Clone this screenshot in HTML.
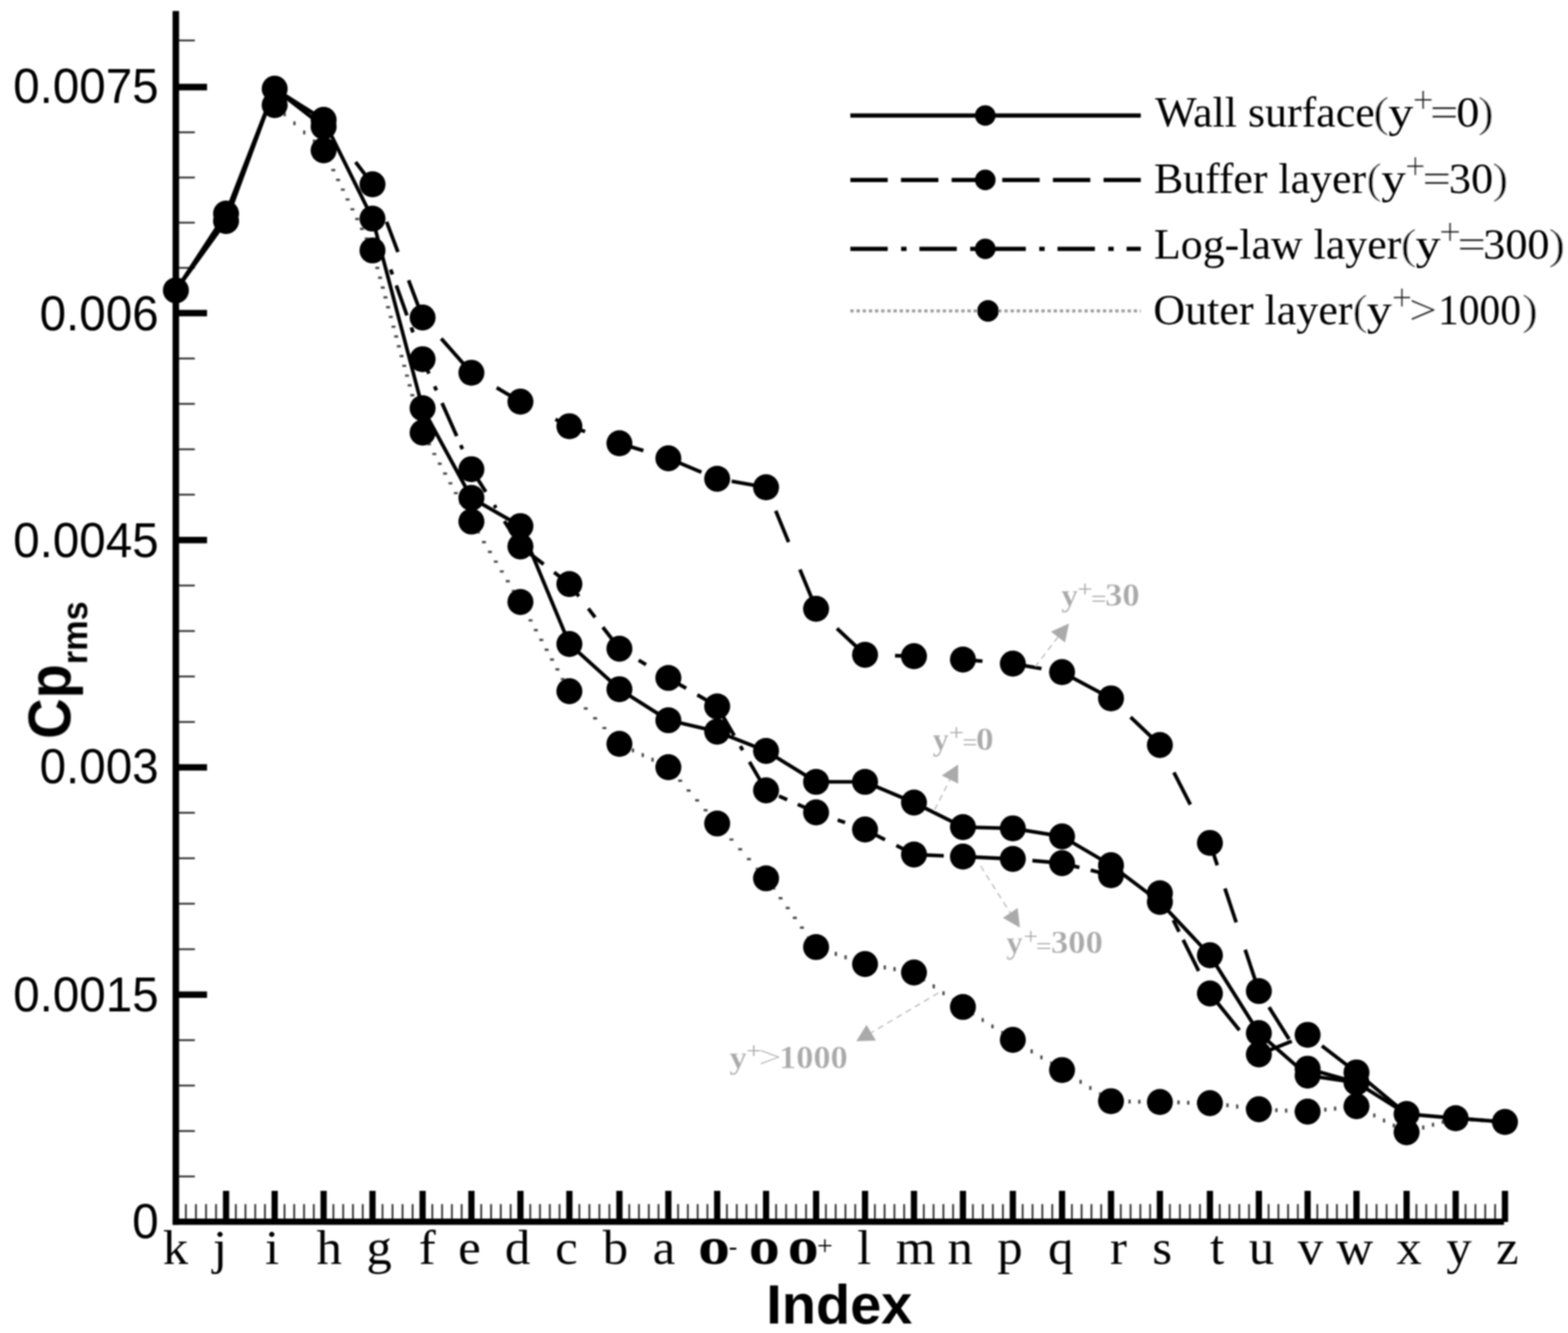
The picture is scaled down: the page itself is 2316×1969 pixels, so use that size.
<!DOCTYPE html>
<html lang="en"><head><meta charset="utf-8"><title>Cp rms vs Index</title>
<style>
html,body{margin:0;padding:0;background:#fff;}
body{width:2316px;height:1969px;overflow:hidden;}
svg{display:block;}
.ser{font-family:"Liberation Serif",serif;}
.san{font-family:"Liberation Sans",sans-serif;}
</style></head><body>
<svg width="2316" height="1969" viewBox="0 0 2316 1969">
<defs><filter id="soft" x="0" y="0" width="2316" height="1969" filterUnits="userSpaceOnUse"><feGaussianBlur stdDeviation="0.9"/></filter></defs>
<rect width="2316" height="1969" fill="#fff"/>
<g filter="url(#soft)">

<g id="axes" stroke="#000" fill="none">
<line x1="259.7" y1="59.8" x2="287.8" y2="59.8" stroke="#2c2c2c" stroke-width="2.6"/>
<line x1="259.7" y1="1737.8" x2="287.8" y2="1737.8" stroke="#2c2c2c" stroke-width="2.6"/>
<line x1="259.7" y1="1670.7" x2="287.8" y2="1670.7" stroke="#2c2c2c" stroke-width="2.6"/>
<line x1="259.7" y1="1603.5" x2="287.8" y2="1603.5" stroke="#2c2c2c" stroke-width="2.6"/>
<line x1="259.7" y1="1536.4" x2="287.8" y2="1536.4" stroke="#2c2c2c" stroke-width="2.6"/>
<line x1="259.7" y1="1402.1" x2="287.8" y2="1402.1" stroke="#2c2c2c" stroke-width="2.6"/>
<line x1="259.7" y1="1334.9" x2="287.8" y2="1334.9" stroke="#2c2c2c" stroke-width="2.6"/>
<line x1="259.7" y1="1267.8" x2="287.8" y2="1267.8" stroke="#2c2c2c" stroke-width="2.6"/>
<line x1="259.7" y1="1200.6" x2="287.8" y2="1200.6" stroke="#2c2c2c" stroke-width="2.6"/>
<line x1="259.7" y1="1066.4" x2="287.8" y2="1066.4" stroke="#2c2c2c" stroke-width="2.6"/>
<line x1="259.7" y1="999.2" x2="287.8" y2="999.2" stroke="#2c2c2c" stroke-width="2.6"/>
<line x1="259.7" y1="932.1" x2="287.8" y2="932.1" stroke="#2c2c2c" stroke-width="2.6"/>
<line x1="259.7" y1="864.9" x2="287.8" y2="864.9" stroke="#2c2c2c" stroke-width="2.6"/>
<line x1="259.7" y1="730.7" x2="287.8" y2="730.7" stroke="#2c2c2c" stroke-width="2.6"/>
<line x1="259.7" y1="663.7" x2="287.8" y2="663.7" stroke="#2c2c2c" stroke-width="2.6"/>
<line x1="259.7" y1="596.6" x2="287.8" y2="596.6" stroke="#2c2c2c" stroke-width="2.6"/>
<line x1="259.7" y1="529.6" x2="287.8" y2="529.6" stroke="#2c2c2c" stroke-width="2.6"/>
<line x1="259.7" y1="395.7" x2="287.8" y2="395.7" stroke="#2c2c2c" stroke-width="2.6"/>
<line x1="259.7" y1="328.9" x2="287.8" y2="328.9" stroke="#2c2c2c" stroke-width="2.6"/>
<line x1="259.7" y1="262.2" x2="287.8" y2="262.2" stroke="#2c2c2c" stroke-width="2.6"/>
<line x1="259.7" y1="195.4" x2="287.8" y2="195.4" stroke="#2c2c2c" stroke-width="2.6"/>
<line x1="259.7" y1="1469.2" x2="305.8" y2="1469.2" stroke-width="9.6"/>
<line x1="259.7" y1="1133.5" x2="305.8" y2="1133.5" stroke-width="9.6"/>
<line x1="259.7" y1="797.8" x2="305.8" y2="797.8" stroke-width="9.6"/>
<line x1="259.7" y1="462.5" x2="305.8" y2="462.5" stroke-width="9.6"/>
<line x1="259.7" y1="128.6" x2="305.8" y2="128.6" stroke-width="9.6"/>
<line x1="274.6" y1="1778.6" x2="274.6" y2="1805" stroke="#2c2c2c" stroke-width="2.6"/>
<line x1="289.4" y1="1778.6" x2="289.4" y2="1805" stroke="#2c2c2c" stroke-width="2.6"/>
<line x1="304.3" y1="1778.6" x2="304.3" y2="1805" stroke="#2c2c2c" stroke-width="2.6"/>
<line x1="319.1" y1="1778.6" x2="319.1" y2="1805" stroke="#2c2c2c" stroke-width="2.6"/>
<line x1="348.3" y1="1778.6" x2="348.3" y2="1805" stroke="#2c2c2c" stroke-width="2.6"/>
<line x1="362.6" y1="1778.6" x2="362.6" y2="1805" stroke="#2c2c2c" stroke-width="2.6"/>
<line x1="377.0" y1="1778.6" x2="377.0" y2="1805" stroke="#2c2c2c" stroke-width="2.6"/>
<line x1="391.3" y1="1778.6" x2="391.3" y2="1805" stroke="#2c2c2c" stroke-width="2.6"/>
<line x1="420.2" y1="1778.6" x2="420.2" y2="1805" stroke="#2c2c2c" stroke-width="2.6"/>
<line x1="434.6" y1="1778.6" x2="434.6" y2="1805" stroke="#2c2c2c" stroke-width="2.6"/>
<line x1="449.1" y1="1778.6" x2="449.1" y2="1805" stroke="#2c2c2c" stroke-width="2.6"/>
<line x1="463.5" y1="1778.6" x2="463.5" y2="1805" stroke="#2c2c2c" stroke-width="2.6"/>
<line x1="492.4" y1="1778.6" x2="492.4" y2="1805" stroke="#2c2c2c" stroke-width="2.6"/>
<line x1="506.9" y1="1778.6" x2="506.9" y2="1805" stroke="#2c2c2c" stroke-width="2.6"/>
<line x1="521.3" y1="1778.6" x2="521.3" y2="1805" stroke="#2c2c2c" stroke-width="2.6"/>
<line x1="535.8" y1="1778.6" x2="535.8" y2="1805" stroke="#2c2c2c" stroke-width="2.6"/>
<line x1="565.0" y1="1778.6" x2="565.0" y2="1805" stroke="#2c2c2c" stroke-width="2.6"/>
<line x1="579.8" y1="1778.6" x2="579.8" y2="1805" stroke="#2c2c2c" stroke-width="2.6"/>
<line x1="594.6" y1="1778.6" x2="594.6" y2="1805" stroke="#2c2c2c" stroke-width="2.6"/>
<line x1="609.4" y1="1778.6" x2="609.4" y2="1805" stroke="#2c2c2c" stroke-width="2.6"/>
<line x1="638.6" y1="1778.6" x2="638.6" y2="1805" stroke="#2c2c2c" stroke-width="2.6"/>
<line x1="653.0" y1="1778.6" x2="653.0" y2="1805" stroke="#2c2c2c" stroke-width="2.6"/>
<line x1="667.5" y1="1778.6" x2="667.5" y2="1805" stroke="#2c2c2c" stroke-width="2.6"/>
<line x1="681.9" y1="1778.6" x2="681.9" y2="1805" stroke="#2c2c2c" stroke-width="2.6"/>
<line x1="710.8" y1="1778.6" x2="710.8" y2="1805" stroke="#2c2c2c" stroke-width="2.6"/>
<line x1="725.3" y1="1778.6" x2="725.3" y2="1805" stroke="#2c2c2c" stroke-width="2.6"/>
<line x1="739.7" y1="1778.6" x2="739.7" y2="1805" stroke="#2c2c2c" stroke-width="2.6"/>
<line x1="754.2" y1="1778.6" x2="754.2" y2="1805" stroke="#2c2c2c" stroke-width="2.6"/>
<line x1="783.2" y1="1778.6" x2="783.2" y2="1805" stroke="#2c2c2c" stroke-width="2.6"/>
<line x1="797.6" y1="1778.6" x2="797.6" y2="1805" stroke="#2c2c2c" stroke-width="2.6"/>
<line x1="812.1" y1="1778.6" x2="812.1" y2="1805" stroke="#2c2c2c" stroke-width="2.6"/>
<line x1="826.5" y1="1778.6" x2="826.5" y2="1805" stroke="#2c2c2c" stroke-width="2.6"/>
<line x1="855.8" y1="1778.6" x2="855.8" y2="1805" stroke="#2c2c2c" stroke-width="2.6"/>
<line x1="870.6" y1="1778.6" x2="870.6" y2="1805" stroke="#2c2c2c" stroke-width="2.6"/>
<line x1="885.3" y1="1778.6" x2="885.3" y2="1805" stroke="#2c2c2c" stroke-width="2.6"/>
<line x1="900.1" y1="1778.6" x2="900.1" y2="1805" stroke="#2c2c2c" stroke-width="2.6"/>
<line x1="929.4" y1="1778.6" x2="929.4" y2="1805" stroke="#2c2c2c" stroke-width="2.6"/>
<line x1="943.8" y1="1778.6" x2="943.8" y2="1805" stroke="#2c2c2c" stroke-width="2.6"/>
<line x1="958.3" y1="1778.6" x2="958.3" y2="1805" stroke="#2c2c2c" stroke-width="2.6"/>
<line x1="972.7" y1="1778.6" x2="972.7" y2="1805" stroke="#2c2c2c" stroke-width="2.6"/>
<line x1="1001.6" y1="1778.6" x2="1001.6" y2="1805" stroke="#2c2c2c" stroke-width="2.6"/>
<line x1="1016.0" y1="1778.6" x2="1016.0" y2="1805" stroke="#2c2c2c" stroke-width="2.6"/>
<line x1="1030.5" y1="1778.6" x2="1030.5" y2="1805" stroke="#2c2c2c" stroke-width="2.6"/>
<line x1="1044.9" y1="1778.6" x2="1044.9" y2="1805" stroke="#2c2c2c" stroke-width="2.6"/>
<line x1="1073.7" y1="1778.6" x2="1073.7" y2="1805" stroke="#2c2c2c" stroke-width="2.6"/>
<line x1="1088.2" y1="1778.6" x2="1088.2" y2="1805" stroke="#2c2c2c" stroke-width="2.6"/>
<line x1="1102.6" y1="1778.6" x2="1102.6" y2="1805" stroke="#2c2c2c" stroke-width="2.6"/>
<line x1="1117.1" y1="1778.6" x2="1117.1" y2="1805" stroke="#2c2c2c" stroke-width="2.6"/>
<line x1="1146.3" y1="1778.6" x2="1146.3" y2="1805" stroke="#2c2c2c" stroke-width="2.6"/>
<line x1="1161.1" y1="1778.6" x2="1161.1" y2="1805" stroke="#2c2c2c" stroke-width="2.6"/>
<line x1="1175.8" y1="1778.6" x2="1175.8" y2="1805" stroke="#2c2c2c" stroke-width="2.6"/>
<line x1="1190.6" y1="1778.6" x2="1190.6" y2="1805" stroke="#2c2c2c" stroke-width="2.6"/>
<line x1="1219.9" y1="1778.6" x2="1219.9" y2="1805" stroke="#2c2c2c" stroke-width="2.6"/>
<line x1="1234.3" y1="1778.6" x2="1234.3" y2="1805" stroke="#2c2c2c" stroke-width="2.6"/>
<line x1="1248.8" y1="1778.6" x2="1248.8" y2="1805" stroke="#2c2c2c" stroke-width="2.6"/>
<line x1="1263.2" y1="1778.6" x2="1263.2" y2="1805" stroke="#2c2c2c" stroke-width="2.6"/>
<line x1="1292.2" y1="1778.6" x2="1292.2" y2="1805" stroke="#2c2c2c" stroke-width="2.6"/>
<line x1="1306.6" y1="1778.6" x2="1306.6" y2="1805" stroke="#2c2c2c" stroke-width="2.6"/>
<line x1="1321.1" y1="1778.6" x2="1321.1" y2="1805" stroke="#2c2c2c" stroke-width="2.6"/>
<line x1="1335.5" y1="1778.6" x2="1335.5" y2="1805" stroke="#2c2c2c" stroke-width="2.6"/>
<line x1="1364.5" y1="1778.6" x2="1364.5" y2="1805" stroke="#2c2c2c" stroke-width="2.6"/>
<line x1="1378.9" y1="1778.6" x2="1378.9" y2="1805" stroke="#2c2c2c" stroke-width="2.6"/>
<line x1="1393.4" y1="1778.6" x2="1393.4" y2="1805" stroke="#2c2c2c" stroke-width="2.6"/>
<line x1="1407.8" y1="1778.6" x2="1407.8" y2="1805" stroke="#2c2c2c" stroke-width="2.6"/>
<line x1="1437.0" y1="1778.6" x2="1437.0" y2="1805" stroke="#2c2c2c" stroke-width="2.6"/>
<line x1="1451.8" y1="1778.6" x2="1451.8" y2="1805" stroke="#2c2c2c" stroke-width="2.6"/>
<line x1="1466.5" y1="1778.6" x2="1466.5" y2="1805" stroke="#2c2c2c" stroke-width="2.6"/>
<line x1="1481.3" y1="1778.6" x2="1481.3" y2="1805" stroke="#2c2c2c" stroke-width="2.6"/>
<line x1="1510.5" y1="1778.6" x2="1510.5" y2="1805" stroke="#2c2c2c" stroke-width="2.6"/>
<line x1="1525.1" y1="1778.6" x2="1525.1" y2="1805" stroke="#2c2c2c" stroke-width="2.6"/>
<line x1="1539.6" y1="1778.6" x2="1539.6" y2="1805" stroke="#2c2c2c" stroke-width="2.6"/>
<line x1="1554.2" y1="1778.6" x2="1554.2" y2="1805" stroke="#2c2c2c" stroke-width="2.6"/>
<line x1="1583.2" y1="1778.6" x2="1583.2" y2="1805" stroke="#2c2c2c" stroke-width="2.6"/>
<line x1="1597.6" y1="1778.6" x2="1597.6" y2="1805" stroke="#2c2c2c" stroke-width="2.6"/>
<line x1="1612.1" y1="1778.6" x2="1612.1" y2="1805" stroke="#2c2c2c" stroke-width="2.6"/>
<line x1="1626.5" y1="1778.6" x2="1626.5" y2="1805" stroke="#2c2c2c" stroke-width="2.6"/>
<line x1="1655.4" y1="1778.6" x2="1655.4" y2="1805" stroke="#2c2c2c" stroke-width="2.6"/>
<line x1="1669.9" y1="1778.6" x2="1669.9" y2="1805" stroke="#2c2c2c" stroke-width="2.6"/>
<line x1="1684.3" y1="1778.6" x2="1684.3" y2="1805" stroke="#2c2c2c" stroke-width="2.6"/>
<line x1="1698.8" y1="1778.6" x2="1698.8" y2="1805" stroke="#2c2c2c" stroke-width="2.6"/>
<line x1="1728.0" y1="1778.6" x2="1728.0" y2="1805" stroke="#2c2c2c" stroke-width="2.6"/>
<line x1="1742.8" y1="1778.6" x2="1742.8" y2="1805" stroke="#2c2c2c" stroke-width="2.6"/>
<line x1="1757.5" y1="1778.6" x2="1757.5" y2="1805" stroke="#2c2c2c" stroke-width="2.6"/>
<line x1="1772.3" y1="1778.6" x2="1772.3" y2="1805" stroke="#2c2c2c" stroke-width="2.6"/>
<line x1="1801.6" y1="1778.6" x2="1801.6" y2="1805" stroke="#2c2c2c" stroke-width="2.6"/>
<line x1="1816.0" y1="1778.6" x2="1816.0" y2="1805" stroke="#2c2c2c" stroke-width="2.6"/>
<line x1="1830.5" y1="1778.6" x2="1830.5" y2="1805" stroke="#2c2c2c" stroke-width="2.6"/>
<line x1="1844.9" y1="1778.6" x2="1844.9" y2="1805" stroke="#2c2c2c" stroke-width="2.6"/>
<line x1="1873.8" y1="1778.6" x2="1873.8" y2="1805" stroke="#2c2c2c" stroke-width="2.6"/>
<line x1="1888.2" y1="1778.6" x2="1888.2" y2="1805" stroke="#2c2c2c" stroke-width="2.6"/>
<line x1="1902.6" y1="1778.6" x2="1902.6" y2="1805" stroke="#2c2c2c" stroke-width="2.6"/>
<line x1="1917.0" y1="1778.6" x2="1917.0" y2="1805" stroke="#2c2c2c" stroke-width="2.6"/>
<line x1="1945.8" y1="1778.6" x2="1945.8" y2="1805" stroke="#2c2c2c" stroke-width="2.6"/>
<line x1="1960.3" y1="1778.6" x2="1960.3" y2="1805" stroke="#2c2c2c" stroke-width="2.6"/>
<line x1="1974.7" y1="1778.6" x2="1974.7" y2="1805" stroke="#2c2c2c" stroke-width="2.6"/>
<line x1="1989.2" y1="1778.6" x2="1989.2" y2="1805" stroke="#2c2c2c" stroke-width="2.6"/>
<line x1="2018.4" y1="1778.6" x2="2018.4" y2="1805" stroke="#2c2c2c" stroke-width="2.6"/>
<line x1="2033.2" y1="1778.6" x2="2033.2" y2="1805" stroke="#2c2c2c" stroke-width="2.6"/>
<line x1="2048.0" y1="1778.6" x2="2048.0" y2="1805" stroke="#2c2c2c" stroke-width="2.6"/>
<line x1="2062.8" y1="1778.6" x2="2062.8" y2="1805" stroke="#2c2c2c" stroke-width="2.6"/>
<line x1="2092.1" y1="1778.6" x2="2092.1" y2="1805" stroke="#2c2c2c" stroke-width="2.6"/>
<line x1="2106.6" y1="1778.6" x2="2106.6" y2="1805" stroke="#2c2c2c" stroke-width="2.6"/>
<line x1="2121.1" y1="1778.6" x2="2121.1" y2="1805" stroke="#2c2c2c" stroke-width="2.6"/>
<line x1="2135.6" y1="1778.6" x2="2135.6" y2="1805" stroke="#2c2c2c" stroke-width="2.6"/>
<line x1="2164.7" y1="1778.6" x2="2164.7" y2="1805" stroke="#2c2c2c" stroke-width="2.6"/>
<line x1="2179.2" y1="1778.6" x2="2179.2" y2="1805" stroke="#2c2c2c" stroke-width="2.6"/>
<line x1="2193.8" y1="1778.6" x2="2193.8" y2="1805" stroke="#2c2c2c" stroke-width="2.6"/>
<line x1="2208.3" y1="1778.6" x2="2208.3" y2="1805" stroke="#2c2c2c" stroke-width="2.6"/>
<line x1="333.9" y1="1759" x2="333.9" y2="1805" stroke-width="9.2"/>
<line x1="405.7" y1="1759" x2="405.7" y2="1805" stroke-width="9.2"/>
<line x1="478.0" y1="1759" x2="478.0" y2="1805" stroke-width="9.2"/>
<line x1="550.2" y1="1759" x2="550.2" y2="1805" stroke-width="9.2"/>
<line x1="624.2" y1="1759" x2="624.2" y2="1805" stroke-width="9.2"/>
<line x1="696.3" y1="1759" x2="696.3" y2="1805" stroke-width="9.2"/>
<line x1="768.7" y1="1759" x2="768.7" y2="1805" stroke-width="9.2"/>
<line x1="841.0" y1="1759" x2="841.0" y2="1805" stroke-width="9.2"/>
<line x1="914.9" y1="1759" x2="914.9" y2="1805" stroke-width="9.2"/>
<line x1="987.2" y1="1759" x2="987.2" y2="1805" stroke-width="9.2"/>
<line x1="1059.3" y1="1759" x2="1059.3" y2="1805" stroke-width="9.2"/>
<line x1="1131.5" y1="1759" x2="1131.5" y2="1805" stroke-width="9.2"/>
<line x1="1205.4" y1="1759" x2="1205.4" y2="1805" stroke-width="9.2"/>
<line x1="1277.7" y1="1759" x2="1277.7" y2="1805" stroke-width="9.2"/>
<line x1="1350.0" y1="1759" x2="1350.0" y2="1805" stroke-width="9.2"/>
<line x1="1422.3" y1="1759" x2="1422.3" y2="1805" stroke-width="9.2"/>
<line x1="1496.0" y1="1759" x2="1496.0" y2="1805" stroke-width="9.2"/>
<line x1="1568.7" y1="1759" x2="1568.7" y2="1805" stroke-width="9.2"/>
<line x1="1641.0" y1="1759" x2="1641.0" y2="1805" stroke-width="9.2"/>
<line x1="1713.2" y1="1759" x2="1713.2" y2="1805" stroke-width="9.2"/>
<line x1="1787.1" y1="1759" x2="1787.1" y2="1805" stroke-width="9.2"/>
<line x1="1859.4" y1="1759" x2="1859.4" y2="1805" stroke-width="9.2"/>
<line x1="1931.4" y1="1759" x2="1931.4" y2="1805" stroke-width="9.2"/>
<line x1="2003.6" y1="1759" x2="2003.6" y2="1805" stroke-width="9.2"/>
<line x1="2077.6" y1="1759" x2="2077.6" y2="1805" stroke-width="9.2"/>
<line x1="2150.1" y1="1759" x2="2150.1" y2="1805" stroke-width="9.2"/>
<line x1="2222.9" y1="1759" x2="2222.9" y2="1805" stroke-width="9.2"/>
<line x1="259.7" y1="16.3" x2="259.7" y2="1809.3" stroke-width="9.6"/>
<line x1="254.9" y1="1804.6" x2="2221.5" y2="1804.6" stroke-width="9.4"/>
</g>
<g class="san" font-size="72" fill="#000" text-anchor="end">
<text transform="translate(234.4,1829.3) scale(0.9765,1)">0</text>
<text transform="translate(234.4,1494.2) scale(0.9765,1)">0.0015</text>
<text transform="translate(234.4,1157.0) scale(0.9765,1)">0.003</text>
<text transform="translate(234.4,823.0) scale(0.9765,1)">0.0045</text>
<text transform="translate(234.4,487.5) scale(0.9765,1)">0.006</text>
<text transform="translate(234.4,151.9) scale(0.9765,1)">0.0075</text>
</g>
<g class="ser" font-size="71.5" fill="#000">
<text y="1866.9"><tspan x="240.6" textLength="37.5" lengthAdjust="spacingAndGlyphs">k</tspan></text>
<text y="1866.9"><tspan x="314.4" textLength="20.9" lengthAdjust="spacingAndGlyphs">j</tspan></text>
<text y="1866.9"><tspan x="391.6" textLength="20.9" lengthAdjust="spacingAndGlyphs">i</tspan></text>
<text y="1866.9"><tspan x="467.4" textLength="37.5" lengthAdjust="spacingAndGlyphs">h</tspan></text>
<text y="1866.9"><tspan x="541.2" textLength="37.5" lengthAdjust="spacingAndGlyphs">g</tspan></text>
<text y="1866.9"><tspan x="618.4" textLength="25.0" lengthAdjust="spacingAndGlyphs">f</tspan></text>
<text y="1866.9"><tspan x="676.8" textLength="33.3" lengthAdjust="spacingAndGlyphs">e</tspan></text>
<text y="1866.9"><tspan x="745.7" textLength="37.5" lengthAdjust="spacingAndGlyphs">d</tspan></text>
<text y="1866.9"><tspan x="820.1" textLength="33.3" lengthAdjust="spacingAndGlyphs">c</tspan></text>
<text y="1866.9"><tspan x="890.2" textLength="37.5" lengthAdjust="spacingAndGlyphs">b</tspan></text>
<text y="1866.9"><tspan x="964.0" textLength="33.3" lengthAdjust="spacingAndGlyphs">a</tspan></text>
<text y="1866.9"><tspan x="1265.9" textLength="20.9" lengthAdjust="spacingAndGlyphs">l</tspan></text>
<text y="1866.9"><tspan x="1323.2" textLength="58.4" lengthAdjust="spacingAndGlyphs">m</tspan></text>
<text y="1866.9"><tspan x="1399.6" textLength="37.5" lengthAdjust="spacingAndGlyphs">n</tspan></text>
<text y="1866.9"><tspan x="1473.0" textLength="37.5" lengthAdjust="spacingAndGlyphs">p</tspan></text>
<text y="1866.9"><tspan x="1548.0" textLength="37.5" lengthAdjust="spacingAndGlyphs">q</tspan></text>
<text y="1866.9"><tspan x="1639.6" textLength="25.0" lengthAdjust="spacingAndGlyphs">r</tspan></text>
<text y="1866.9"><tspan x="1702.0" textLength="29.2" lengthAdjust="spacingAndGlyphs">s</tspan></text>
<text y="1866.9"><tspan x="1787.2" textLength="20.9" lengthAdjust="spacingAndGlyphs">t</tspan></text>
<text y="1866.9"><tspan x="1844.4" textLength="37.5" lengthAdjust="spacingAndGlyphs">u</tspan></text>
<text y="1866.9"><tspan x="1916.8" textLength="37.5" lengthAdjust="spacingAndGlyphs">v</tspan></text>
<text y="1866.9"><tspan x="1973.9" textLength="54.2" lengthAdjust="spacingAndGlyphs">w</tspan></text>
<text y="1866.9"><tspan x="2062.5" textLength="37.5" lengthAdjust="spacingAndGlyphs">x</tspan></text>
<text y="1866.9"><tspan x="2136.3" textLength="37.5" lengthAdjust="spacingAndGlyphs">y</tspan></text>
<text y="1866.9"><tspan x="2209.8" textLength="33.3" lengthAdjust="spacingAndGlyphs">z</tspan></text>
<text y="1866.9"><tspan x="1031.1" textLength="47.3" lengthAdjust="spacingAndGlyphs" font-weight="bold" font-size="78">o</tspan><tspan x="1076.5" dy="-13.3" font-size="41" textLength="12.4" lengthAdjust="spacingAndGlyphs">-</tspan></text>
<text y="1866.9"><tspan x="1106.1" textLength="45.8" lengthAdjust="spacingAndGlyphs" font-weight="bold" font-size="78">o</tspan></text>
<text y="1866.9"><tspan x="1163.4" textLength="45.8" lengthAdjust="spacingAndGlyphs" font-weight="bold" font-size="78">o</tspan><tspan x="1206.7" dy="-13.6" font-size="41" textLength="23.3" lengthAdjust="spacingAndGlyphs">+</tspan></text>
</g>
<text class="san" font-size="81" font-weight="bold" y="1954.6" fill="#000"><tspan x="1131.7" textLength="215.9" lengthAdjust="spacingAndGlyphs">Index</tspan></text>
<text class="san" font-size="85" font-weight="bold" fill="#000" transform="translate(103.9,1091.4) rotate(-90) scale(0.974,1.042)">Cp<tspan font-size="52" dy="24">rms</tspan></text>
<g id="lines" fill="none" stroke="#000" stroke-linejoin="round">
<path d="M404.3 152.6h3.4v5.8h-3.4zM418.8 165.9h3.4v5.8h-3.4zM433.2 179.3h3.4v5.8h-3.4zM447.7 192.7h3.4v5.8h-3.4zM462.1 206.0h3.4v5.8h-3.4zM475.2 220.6h5.8v3.4h-5.8zM482.3 235.1h5.8v3.4h-5.8zM489.4 249.5h5.8v3.4h-5.8zM496.4 264.0h5.8v3.4h-5.8zM503.5 278.4h5.8v3.4h-5.8zM510.5 292.9h5.8v3.4h-5.8zM517.6 307.4h5.8v3.4h-5.8zM524.7 321.8h5.8v3.4h-5.8zM531.7 336.3h5.8v3.4h-5.8zM538.8 350.7h5.8v3.4h-5.8zM545.8 365.2h5.8v3.4h-5.8zM550.5 379.7h5.8v3.4h-5.8zM554.4 394.1h5.8v3.4h-5.8zM558.4 408.6h5.8v3.4h-5.8zM562.4 423.0h5.8v3.4h-5.8zM566.4 437.5h5.8v3.4h-5.8zM570.3 452.0h5.8v3.4h-5.8zM574.3 466.4h5.8v3.4h-5.8zM578.3 480.9h5.8v3.4h-5.8zM582.3 495.3h5.8v3.4h-5.8zM586.2 509.8h5.8v3.4h-5.8zM590.2 524.3h5.8v3.4h-5.8zM594.2 538.7h5.8v3.4h-5.8zM598.2 553.2h5.8v3.4h-5.8zM602.1 567.6h5.8v3.4h-5.8zM606.1 582.1h5.8v3.4h-5.8zM610.1 596.6h5.8v3.4h-5.8zM614.1 611.0h5.8v3.4h-5.8zM618.0 625.5h5.8v3.4h-5.8zM622.7 639.9h5.8v3.4h-5.8zM630.7 654.4h5.8v3.4h-5.8zM638.6 668.9h5.8v3.4h-5.8zM646.6 683.3h5.8v3.4h-5.8zM654.5 697.8h5.8v3.4h-5.8zM662.4 712.2h5.8v3.4h-5.8zM670.4 726.7h5.8v3.4h-5.8zM678.3 741.2h5.8v3.4h-5.8zM686.2 755.6h5.8v3.4h-5.8zM694.2 770.1h5.8v3.4h-5.8zM703.1 784.5h5.8v3.4h-5.8zM711.9 799.0h5.8v3.4h-5.8zM720.7 813.5h5.8v3.4h-5.8zM729.5 827.9h5.8v3.4h-5.8zM738.3 842.4h5.8v3.4h-5.8zM747.1 856.8h5.8v3.4h-5.8zM755.9 871.3h5.8v3.4h-5.8zM764.7 885.8h5.8v3.4h-5.8zM772.8 900.2h5.8v3.4h-5.8zM780.7 914.7h5.8v3.4h-5.8zM788.6 929.1h5.8v3.4h-5.8zM796.6 943.6h5.8v3.4h-5.8zM804.5 958.1h5.8v3.4h-5.8zM812.4 972.5h5.8v3.4h-5.8zM820.4 987.0h5.8v3.4h-5.8zM828.3 1001.4h5.8v3.4h-5.8zM836.2 1015.9h5.8v3.4h-5.8zM848.6 1030.4h5.8v3.4h-5.8zM862.3 1044.8h5.8v3.4h-5.8zM876.1 1059.3h5.8v3.4h-5.8zM889.8 1073.7h5.8v3.4h-5.8zM903.5 1088.2h5.8v3.4h-5.8zM918.8 1098.6h3.4v5.8h-3.4zM933.2 1105.5h3.4v5.8h-3.4zM947.7 1112.4h3.4v5.8h-3.4zM962.1 1119.3h3.4v5.8h-3.4zM976.6 1126.2h3.4v5.8h-3.4zM989.1 1137.2h5.8v3.4h-5.8zM1001.7 1151.6h5.8v3.4h-5.8zM1014.2 1166.1h5.8v3.4h-5.8zM1026.8 1180.5h5.8v3.4h-5.8zM1039.3 1195.0h5.8v3.4h-5.8zM1051.9 1209.5h5.8v3.4h-5.8zM1064.6 1223.9h5.8v3.4h-5.8zM1077.5 1238.4h5.8v3.4h-5.8zM1090.4 1252.8h5.8v3.4h-5.8zM1103.3 1267.3h5.8v3.4h-5.8zM1116.2 1281.8h5.8v3.4h-5.8zM1129.0 1296.2h5.8v3.4h-5.8zM1139.5 1310.7h5.8v3.4h-5.8zM1150.0 1325.1h5.8v3.4h-5.8zM1160.6 1339.6h5.8v3.4h-5.8zM1171.1 1354.1h5.8v3.4h-5.8zM1181.6 1368.5h5.8v3.4h-5.8zM1192.1 1383.0h5.8v3.4h-5.8zM1203.9 1396.1h3.4v5.8h-3.4zM1218.4 1401.1h3.4v5.8h-3.4zM1232.9 1406.1h3.4v5.8h-3.4zM1247.3 1411.1h3.4v5.8h-3.4zM1261.8 1416.2h3.4v5.8h-3.4zM1276.2 1421.1h3.4v5.8h-3.4zM1290.7 1423.6h3.4v5.8h-3.4zM1305.2 1426.1h3.4v5.8h-3.4zM1319.6 1428.6h3.4v5.8h-3.4zM1334.1 1431.1h3.4v5.8h-3.4zM1348.5 1433.8h3.4v5.8h-3.4zM1363.0 1443.9h3.4v5.8h-3.4zM1377.5 1454.1h3.4v5.8h-3.4zM1391.9 1464.3h3.4v5.8h-3.4zM1406.4 1474.5h3.4v5.8h-3.4zM1420.8 1484.7h3.4v5.8h-3.4zM1435.3 1494.2h3.4v5.8h-3.4zM1449.8 1503.7h3.4v5.8h-3.4zM1464.2 1513.3h3.4v5.8h-3.4zM1478.7 1522.8h3.4v5.8h-3.4zM1493.1 1532.3h3.4v5.8h-3.4zM1507.6 1541.3h3.4v5.8h-3.4zM1522.1 1550.1h3.4v5.8h-3.4zM1536.5 1559.0h3.4v5.8h-3.4zM1551.0 1567.9h3.4v5.8h-3.4zM1565.4 1576.7h3.4v5.8h-3.4zM1579.9 1585.9h3.4v5.8h-3.4zM1594.4 1595.1h3.4v5.8h-3.4zM1608.8 1604.3h3.4v5.8h-3.4zM1623.3 1613.5h3.4v5.8h-3.4zM1637.7 1622.7h3.4v5.8h-3.4zM1652.2 1623.9h3.4v5.8h-3.4zM1666.7 1624.2h3.4v5.8h-3.4zM1681.1 1624.4h3.4v5.8h-3.4zM1695.6 1624.6h3.4v5.8h-3.4zM1710.0 1624.9h3.4v5.8h-3.4zM1724.5 1625.2h3.4v5.8h-3.4zM1739.0 1625.5h3.4v5.8h-3.4zM1753.4 1625.9h3.4v5.8h-3.4zM1767.9 1626.2h3.4v5.8h-3.4zM1782.3 1626.5h3.4v5.8h-3.4zM1796.8 1628.0h3.4v5.8h-3.4zM1811.3 1629.8h3.4v5.8h-3.4zM1825.7 1631.6h3.4v5.8h-3.4zM1840.2 1633.4h3.4v5.8h-3.4zM1854.6 1635.2h3.4v5.8h-3.4zM1869.1 1636.2h3.4v5.8h-3.4zM1883.6 1636.9h3.4v5.8h-3.4zM1898.0 1637.6h3.4v5.8h-3.4zM1912.5 1638.3h3.4v5.8h-3.4zM1926.9 1639.0h3.4v5.8h-3.4zM1941.4 1637.8h3.4v5.8h-3.4zM1955.9 1636.2h3.4v5.8h-3.4zM1970.3 1634.6h3.4v5.8h-3.4zM1984.8 1633.0h3.4v5.8h-3.4zM1999.2 1631.4h3.4v5.8h-3.4zM2013.7 1637.2h3.4v5.8h-3.4zM2028.2 1644.8h3.4v5.8h-3.4zM2042.6 1652.3h3.4v5.8h-3.4zM2057.1 1659.8h3.4v5.8h-3.4zM2071.5 1667.3h3.4v5.8h-3.4zM2086.0 1666.7h3.4v5.8h-3.4zM2100.5 1662.6h3.4v5.8h-3.4zM2114.9 1658.5h3.4v5.8h-3.4zM2129.4 1654.3h3.4v5.8h-3.4zM2143.8 1650.2h3.4v5.8h-3.4zM2158.3 1649.6h3.4v5.8h-3.4zM2172.8 1650.7h3.4v5.8h-3.4zM2187.2 1651.8h3.4v5.8h-3.4zM2201.7 1652.9h3.4v5.8h-3.4zM2216.1 1654.0h3.4v5.8h-3.4z" fill="#484848" stroke="none"/>
<path stroke-width="5.4" d="M259.8 428.9 L333.9 326.5 L405.7 131.0 L478.0 187.0 M577.0 398.1 L579.6 405.4 M585.4 421.7 L601.1 465.8 M607.5 483.7 L610.1 491.0 M624.2 530.6 L633.6 551.8 M642.0 570.7 L644.6 576.6 M652.9 595.3 L674.6 644.2 M680.5 657.5 L683.1 663.3 M696.3 693.1 L717.5 726.5 M730.0 746.2 L732.6 750.3 M745.0 769.8 L768.7 807.2 M768.7 807.2 L803.0 833.5 M818.5 845.4 L841.0 862.7 M841.0 862.7 L855.0 880.8 M869.0 898.9 L879.0 911.8 M890.4 926.5 L914.9 958.2 M943.4 975.2 L954.2 981.7 M987.2 1001.4 L1013.5 1016.7 M1030.0 1026.3 L1059.3 1043.4 M1059.3 1043.4 L1084.5 1086.7 M1093.5 1102.2 L1097.0 1108.2 M1107.0 1125.4 L1131.5 1167.5 M1150.6 1175.9 L1162.7 1181.2 M1178.3 1188.1 L1205.4 1200.0 M1237.3 1211.2 L1248.2 1215.0 M1277.7 1225.3 L1307.2 1240.4 M1324.0 1248.9 L1350.0 1262.2 M1350.0 1262.2 L1394.0 1264.1 M1422.3 1265.3 L1496.0 1268.7 M1524.9 1271.2 L1568.7 1275.0 M1568.7 1275.0 L1594.3 1281.3 M1611.0 1285.4 L1641.0 1292.8 M1733.0 1359.1 L1741.6 1376.3 M1747.6 1388.3 L1770.5 1434.2 M1787.1 1467.5 L1830.7 1521.8 M1859.4 1557.5 L1908.0 1538.0 M1952.5 1544.8 L2003.6 1584.1 M2003.6 1584.1 L2077.6 1645.5"/>
<path stroke-width="5.4" d="M450.0 159.2 L478.0 177.0 M525.2 239.3 L550.2 272.3 M571.0 327.6 L587.8 372.2 M603.5 414.0 L624.2 469.0 M651.7 500.1 L696.3 550.6 M733.6 572.6 L768.7 593.3 M820.4 619.3 L841.0 629.6 L864.2 637.5 M914.9 654.8 L950.3 665.7 M987.2 677.0 L1036.0 697.4 M1080.7 710.9 L1131.5 719.8 M1145.8 754.5 L1164.8 800.7 M1181.5 841.2 L1205.4 899.3 M1236.2 928.2 L1277.7 967.2 M1322.0 968.5 L1350.0 969.3 M1422.3 974.2 L1451.2 976.6 M1496.0 980.3 L1538.3 987.6 M1568.7 992.8 L1641.0 1031.6 M1669.9 1059.2 L1713.2 1100.5 M1733.9 1141.0 L1758.2 1188.6 M1787.1 1245.1 L1798.0 1278.1 M1809.3 1312.3 L1825.9 1362.5 M1839.2 1402.8 L1859.4 1463.9 M1874.4 1487.8 L1904.0 1535.0 M1945.0 1582.4 L1990.0 1595.2"/>
<path d="M259.8 428.9 L333.9 315.5 L405.7 131.0 L478.0 177.0 L550.2 322.9 L624.2 602.9 L696.3 735.4 L768.7 777.1 L841.0 951.3 L914.9 1018.1 L987.2 1063.9 L1059.3 1080.7 L1131.5 1109.2 L1205.4 1154.9 L1277.7 1154.9 L1350.0 1185.5 L1422.3 1221.7 L1496.0 1223.6 L1568.7 1235.5 L1641.0 1278.0 L1713.2 1332.3 L1787.1 1411.0 L1859.4 1526.0 L1931.4 1588.7 L2003.6 1599.0 L2077.6 1645.5 L2150.1 1651.8 L2222.9 1657.3" stroke-width="5.4"/>
</g>
<g id="markers" fill="#000">
<circle cx="259.8" cy="428.9" r="19.2"/>
<circle cx="333.9" cy="315.5" r="19.2"/>
<circle cx="405.7" cy="131.0" r="19.2"/>
<circle cx="478.0" cy="177.0" r="19.2"/>
<circle cx="550.2" cy="322.9" r="19.2"/>
<circle cx="624.2" cy="602.9" r="19.2"/>
<circle cx="696.3" cy="735.4" r="19.2"/>
<circle cx="768.7" cy="777.1" r="19.2"/>
<circle cx="841.0" cy="951.3" r="19.2"/>
<circle cx="914.9" cy="1018.1" r="19.2"/>
<circle cx="987.2" cy="1063.9" r="19.2"/>
<circle cx="1059.3" cy="1080.7" r="19.2"/>
<circle cx="1131.5" cy="1109.2" r="19.2"/>
<circle cx="1205.4" cy="1154.9" r="19.2"/>
<circle cx="1277.7" cy="1154.9" r="19.2"/>
<circle cx="1350.0" cy="1185.5" r="19.2"/>
<circle cx="1422.3" cy="1221.7" r="19.2"/>
<circle cx="1496.0" cy="1223.6" r="19.2"/>
<circle cx="1568.7" cy="1235.5" r="19.2"/>
<circle cx="1641.0" cy="1278.0" r="19.2"/>
<circle cx="1713.2" cy="1332.3" r="19.2"/>
<circle cx="1787.1" cy="1411.0" r="19.2"/>
<circle cx="1859.4" cy="1526.0" r="19.2"/>
<circle cx="1931.4" cy="1588.7" r="19.2"/>
<circle cx="2003.6" cy="1599.0" r="19.2"/>
<circle cx="2077.6" cy="1645.5" r="19.2"/>
<circle cx="2150.1" cy="1651.8" r="19.2"/>
<circle cx="2222.9" cy="1657.3" r="19.2"/>
<circle cx="550.2" cy="272.3" r="19.2"/>
<circle cx="624.2" cy="469.0" r="19.2"/>
<circle cx="696.3" cy="550.6" r="19.2"/>
<circle cx="768.7" cy="593.3" r="19.2"/>
<circle cx="841.0" cy="629.6" r="19.2"/>
<circle cx="914.9" cy="654.8" r="19.2"/>
<circle cx="987.2" cy="677.0" r="19.2"/>
<circle cx="1059.3" cy="707.2" r="19.2"/>
<circle cx="1131.5" cy="719.8" r="19.2"/>
<circle cx="1205.4" cy="899.3" r="19.2"/>
<circle cx="1277.7" cy="967.2" r="19.2"/>
<circle cx="1350.0" cy="969.3" r="19.2"/>
<circle cx="1422.3" cy="974.2" r="19.2"/>
<circle cx="1496.0" cy="980.3" r="19.2"/>
<circle cx="1568.7" cy="992.8" r="19.2"/>
<circle cx="1641.0" cy="1031.6" r="19.2"/>
<circle cx="1713.2" cy="1100.5" r="19.2"/>
<circle cx="1787.1" cy="1245.1" r="19.2"/>
<circle cx="1859.4" cy="1463.9" r="19.2"/>
<circle cx="1931.4" cy="1578.6" r="19.2"/>
<circle cx="333.9" cy="326.5" r="19.2"/>
<circle cx="478.0" cy="187.0" r="19.2"/>
<circle cx="624.2" cy="530.6" r="19.2"/>
<circle cx="696.3" cy="693.1" r="19.2"/>
<circle cx="768.7" cy="807.2" r="19.2"/>
<circle cx="841.0" cy="862.7" r="19.2"/>
<circle cx="914.9" cy="958.2" r="19.2"/>
<circle cx="987.2" cy="1001.4" r="19.2"/>
<circle cx="1059.3" cy="1043.4" r="19.2"/>
<circle cx="1131.5" cy="1167.5" r="19.2"/>
<circle cx="1205.4" cy="1200.0" r="19.2"/>
<circle cx="1277.7" cy="1225.3" r="19.2"/>
<circle cx="1350.0" cy="1262.2" r="19.2"/>
<circle cx="1422.3" cy="1265.3" r="19.2"/>
<circle cx="1496.0" cy="1268.7" r="19.2"/>
<circle cx="1568.7" cy="1275.0" r="19.2"/>
<circle cx="1641.0" cy="1292.8" r="19.2"/>
<circle cx="1713.2" cy="1319.4" r="19.2"/>
<circle cx="1787.1" cy="1467.5" r="19.2"/>
<circle cx="1859.4" cy="1557.5" r="19.2"/>
<circle cx="1931.4" cy="1528.6" r="19.2"/>
<circle cx="2003.6" cy="1584.1" r="19.2"/>
<circle cx="405.7" cy="155.2" r="19.2"/>
<circle cx="478.0" cy="222.0" r="19.2"/>
<circle cx="550.2" cy="369.9" r="19.2"/>
<circle cx="624.2" cy="639.0" r="19.2"/>
<circle cx="696.3" cy="770.4" r="19.2"/>
<circle cx="768.7" cy="889.2" r="19.2"/>
<circle cx="841.0" cy="1021.0" r="19.2"/>
<circle cx="914.9" cy="1098.8" r="19.2"/>
<circle cx="987.2" cy="1133.3" r="19.2"/>
<circle cx="1059.3" cy="1216.4" r="19.2"/>
<circle cx="1131.5" cy="1297.4" r="19.2"/>
<circle cx="1205.4" cy="1398.9" r="19.2"/>
<circle cx="1277.7" cy="1424.0" r="19.2"/>
<circle cx="1350.0" cy="1436.5" r="19.2"/>
<circle cx="1422.3" cy="1487.4" r="19.2"/>
<circle cx="1496.0" cy="1536.0" r="19.2"/>
<circle cx="1568.7" cy="1580.6" r="19.2"/>
<circle cx="1641.0" cy="1626.6" r="19.2"/>
<circle cx="1713.2" cy="1627.8" r="19.2"/>
<circle cx="1787.1" cy="1629.5" r="19.2"/>
<circle cx="1859.4" cy="1638.5" r="19.2"/>
<circle cx="1931.4" cy="1642.0" r="19.2"/>
<circle cx="2003.6" cy="1634.0" r="19.2"/>
<circle cx="2077.6" cy="1672.5" r="19.2"/>
</g>
<g id="legend" fill="none" stroke="#000">
<line x1="1256" y1="170.6" x2="1685" y2="170.6" stroke-width="6.2"/>
<line x1="1256" y1="265.8" x2="1685" y2="265.8" stroke-width="6.2" stroke-dasharray="55.2 19.6"/>
<line x1="1256" y1="367.6" x2="1685" y2="367.6" stroke-width="6.2" stroke-dasharray="55.2 19.8 8 19"/>
<line x1="1256" y1="459.3" x2="1685" y2="459.3" stroke="#9c9c9c" stroke-width="4.4" stroke-dasharray="4.9 4.2"/>
</g>
<g fill="#000"><circle cx="1455.3" cy="170.6" r="15.2"/><circle cx="1455.3" cy="265.8" r="15.2"/><circle cx="1455.3" cy="367.6" r="15.2"/><circle cx="1459.3" cy="459.3" r="16"/></g>
<g class="ser" font-size="64" fill="#000">
<text y="187.3"><tspan x="1706.2" textLength="324.3" lengthAdjust="spacingAndGlyphs">Wall surface</tspan><tspan x="2028.6" textLength="23.2" lengthAdjust="spacingAndGlyphs" stroke="#fff" stroke-width="0.5">(</tspan><tspan x="2050.5" textLength="37.1" lengthAdjust="spacingAndGlyphs">y</tspan><tspan x="2086.5" textLength="31.0" lengthAdjust="spacingAndGlyphs" font-size="56" dy="-20.4" stroke="#fff" stroke-width="0.4">+</tspan><tspan x="2112.1" textLength="42.4" lengthAdjust="spacingAndGlyphs" dy="20.4" stroke="#fff" stroke-width="0.4">=</tspan><tspan x="2150.9" textLength="34.2" lengthAdjust="spacingAndGlyphs">0</tspan><tspan x="2183.0" textLength="23.2" lengthAdjust="spacingAndGlyphs" stroke="#fff" stroke-width="0.5">)</tspan></text>
<text y="284.6"><tspan x="1704.4" textLength="313.3" lengthAdjust="spacingAndGlyphs">Buffer layer</tspan><tspan x="2018.5" textLength="22.0" lengthAdjust="spacingAndGlyphs" stroke="#fff" stroke-width="0.5">(</tspan><tspan x="2040.2" textLength="36.3" lengthAdjust="spacingAndGlyphs">y</tspan><tspan x="2075.4" textLength="29.9" lengthAdjust="spacingAndGlyphs" font-size="56" dy="-19.9" stroke="#fff" stroke-width="0.4">+</tspan><tspan x="2100.9" textLength="42.4" lengthAdjust="spacingAndGlyphs" dy="19.9" stroke="#fff" stroke-width="0.4">=</tspan><tspan x="2140.1" textLength="65.5" lengthAdjust="spacingAndGlyphs">30</tspan><tspan x="2204.5" textLength="23.1" lengthAdjust="spacingAndGlyphs" stroke="#fff" stroke-width="0.5">)</tspan></text>
<text y="382.3"><tspan x="1704.4" textLength="365.4" lengthAdjust="spacingAndGlyphs">Log-law layer</tspan><tspan x="2068.9" textLength="23.2" lengthAdjust="spacingAndGlyphs" stroke="#fff" stroke-width="0.5">(</tspan><tspan x="2090.8" textLength="37.1" lengthAdjust="spacingAndGlyphs">y</tspan><tspan x="2125.8" textLength="32.1" lengthAdjust="spacingAndGlyphs" font-size="56" dy="-20.4" stroke="#fff" stroke-width="0.4">+</tspan><tspan x="2152.4" textLength="42.4" lengthAdjust="spacingAndGlyphs" dy="20.4" stroke="#fff" stroke-width="0.4">=</tspan><tspan x="2190.7" textLength="98.1" lengthAdjust="spacingAndGlyphs">300</tspan><tspan x="2287.6" textLength="24.2" lengthAdjust="spacingAndGlyphs" stroke="#fff" stroke-width="0.5">)</tspan></text>
<text y="479.1"><tspan x="1703.6" textLength="294.1" lengthAdjust="spacingAndGlyphs">Outer layer</tspan><tspan x="1997.9" textLength="22.0" lengthAdjust="spacingAndGlyphs" stroke="#fff" stroke-width="0.5">(</tspan><tspan x="2018.8" textLength="37.1" lengthAdjust="spacingAndGlyphs">y</tspan><tspan x="2055.7" textLength="29.9" lengthAdjust="spacingAndGlyphs" font-size="56" dy="-20.3" stroke="#fff" stroke-width="0.4">+</tspan><tspan x="2081.2" textLength="41.3" lengthAdjust="spacingAndGlyphs" dy="20.3" stroke="#fff" stroke-width="0.4">&gt;</tspan><tspan x="2124.1" textLength="122.5" lengthAdjust="spacingAndGlyphs">1000</tspan><tspan x="2248.2" textLength="23.2" lengthAdjust="spacingAndGlyphs" stroke="#fff" stroke-width="0.5">)</tspan></text>
</g>
<g class="ser" font-size="48.5" fill="#aaa">
<text y="895.3"><tspan x="1567.2" textLength="25.1" lengthAdjust="spacingAndGlyphs" font-weight="bold" stroke="#fff" stroke-width="0.4">y</tspan><tspan x="1591.3" textLength="22.7" lengthAdjust="spacingAndGlyphs" font-size="33" dy="-14.3">+</tspan><tspan x="1611.5" textLength="22.8" lengthAdjust="spacingAndGlyphs" font-size="34" dy="14.9">=</tspan><tspan x="1632.3" textLength="51.1" lengthAdjust="spacingAndGlyphs" font-weight="bold" dy="-0.6" stroke="#fff" stroke-width="0.4">30</tspan></text>
<text y="1107.5"><tspan x="1377.6" textLength="24.0" lengthAdjust="spacingAndGlyphs" font-weight="bold" stroke="#fff" stroke-width="0.4">y</tspan><tspan x="1401.6" textLength="22.2" lengthAdjust="spacingAndGlyphs" font-size="33" dy="-14.1">+</tspan><tspan x="1421.4" textLength="22.2" lengthAdjust="spacingAndGlyphs" font-size="34" dy="14.9">=</tspan><tspan x="1441.6" textLength="26.2" lengthAdjust="spacingAndGlyphs" font-weight="bold" dy="-0.8" stroke="#fff" stroke-width="0.4">0</tspan></text>
<text y="1408.0"><tspan x="1486.3" textLength="24.5" lengthAdjust="spacingAndGlyphs" font-weight="bold" stroke="#fff" stroke-width="0.4">y</tspan><tspan x="1511.9" textLength="21.0" lengthAdjust="spacingAndGlyphs" font-size="33" dy="-14.0">+</tspan><tspan x="1530.0" textLength="23.3" lengthAdjust="spacingAndGlyphs" font-size="34" dy="15.1">=</tspan><tspan x="1552.3" textLength="76.7" lengthAdjust="spacingAndGlyphs" font-weight="bold" dy="-1.1" stroke="#fff" stroke-width="0.4">300</tspan></text>
<text y="1578.2"><tspan x="1077.3" textLength="26.1" lengthAdjust="spacingAndGlyphs" font-weight="bold" stroke="#fff" stroke-width="0.4">y</tspan><tspan x="1102.6" textLength="21.8" lengthAdjust="spacingAndGlyphs" font-size="33" dy="-15.0">+</tspan><tspan x="1119.9" textLength="34.5" lengthAdjust="spacingAndGlyphs" font-size="46" dy="13.5" stroke="#fff" stroke-width="0.45">&gt;</tspan><tspan x="1150.7" textLength="101.5" lengthAdjust="spacingAndGlyphs" font-weight="bold" dy="1.5" stroke="#fff" stroke-width="0.4">1000</tspan></text>
</g>
<g id="arrows">
<line x1="1529.6" y1="984.2" x2="1562.7" y2="941.0" stroke="#adadad" stroke-width="1.6" stroke-dasharray="9 6.8" stroke-dashoffset="1.4"/><polygon points="1579.0,921.1 1552.3,933.1 1573.0,949.0" fill="#aaa"/>
<line x1="1380.5" y1="1196.1" x2="1403.2" y2="1151.5" stroke="#adadad" stroke-width="1.6" stroke-dasharray="9 6.8" stroke-dashoffset="0.45"/><polygon points="1415.2,1129.2 1391.1,1145.5 1415.2,1157.6" fill="#aaa"/>
<line x1="1446.5" y1="1276.0" x2="1492.2" y2="1348.5" stroke="#adadad" stroke-width="1.6" stroke-dasharray="9 6.8" stroke-dashoffset="12.1"/><polygon points="1506.5,1370.2 1503.1,1341.3 1481.4,1355.8" fill="#aaa"/>
<line x1="1389.8" y1="1464.5" x2="1286.8" y2="1525.4" stroke="#adadad" stroke-width="1.6" stroke-dasharray="9 6.8" stroke-dashoffset="11.6"/><polygon points="1264.7,1538.0 1279.9,1513.7 1293.8,1537.1" fill="#aaa"/>
</g>
</g>
</svg></body></html>
